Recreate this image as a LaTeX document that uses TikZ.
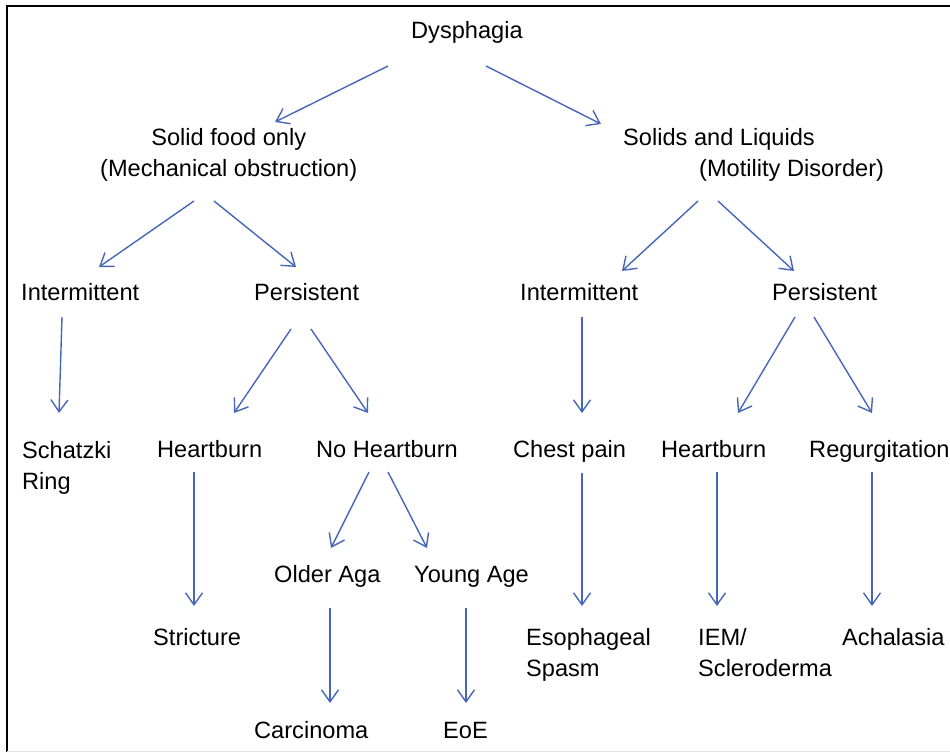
\documentclass[tikz,border=0pt]{standalone}
\usepackage{fontspec}
\setmainfont{Liberation Sans}
\usepackage{tikz}
\usetikzlibrary{arrows.meta}
\definecolor{pfeilblau}{RGB}{70,102,184}

\begin{document}
\begin{tikzpicture}[x=1pt, y=-1pt, % Pixelkoordinaten, y nach unten
    txt/.style={anchor=base west, inner sep=0pt, font=\fontsize{23.6pt}{31pt}\selectfont},
    pfeil/.style={draw=pfeilblau, line width=1.4pt, -{Straight Barb[length=12pt, width=17pt]}}]

    \useasboundingbox (0,0) rectangle (950,752);

    % Rahmen
    \draw[line width=2.5pt] (950,6) -- (7,6) -- (7,752);
    \draw[gray!20, line width=0.8pt] (7,751) -- (950,751);

    % Ebene 1 und 2 (mehrzeilig: Grundlinie der letzten Zeile)
    \node[txt] (dys) at (411,39) {Dysphagia};
    \node[txt, align=center] (solid) at (100,176) {Solid food only\\(Mechanical obstruction)};
    \node[txt, align=left] (sl) at (623,176) {Solids and Liquids\\\hspace*{76pt}(Motility Disorder)};

    % Ebene 3
    \node[txt] (inl) at (21,300) {Intermittent};
    \node[txt] (pel) at (254,300) {Persistent};
    \node[txt] (inr) at (520,300) {Intermittent};
    \node[txt] (per) at (772,300) {Persistent};

    % Ebene 4
    \node[txt, align=left] (sch) at (22,489) {Schatzki\\Ring};
    \node[txt] (hbl) at (157,457) {Heartburn};
    \node[txt] (nhb) at (316,457) {No Heartburn};
    \node[txt] (chp) at (513,457) {Chest pain};
    \node[txt] (hbr) at (661,457) {Heartburn};
    \node[txt] (reg) at (809,457) {Regurgitation};

    % Ebene 5 und 6
    \node[txt] (old) at (274,582) {Older Aga};
    \node[txt] (yng) at (414,582) {Young Age};
    \node[txt] (str) at (153,645) {Stricture};
    \node[txt, align=left] (eso) at (526,676) {Esophageal\\Spasm};
    \node[txt, align=left] (iem) at (698,676) {IEM/\\Scleroderma};
    \node[txt] (ach) at (842,645) {Achalasia};

    % Ebene 7
    \node[txt] (car) at (254,738) {Carcinoma};
    \node[txt] (eoe) at (443,738) {EoE};

    % Pfeile: von/dx/dy/nach/dx/dy (Versatz zum Grundlinienpunkt)
    \foreach \von/\vx/\vy/\nach/\nx/\ny in {
        dys/-23/27/solid/175/-54, dys/75/27/sl/-22/-52,
        solid/94/25/inl/78/-33, solid/114/25/pel/42/-33,
        sl/75/25/inr/102/-29, sl/95/25/per/22/-29,
        inl/41/17/sch/37/-76, pel/37/29/hbl/77/-44, pel/57/29/nhb/52/-44,
        inr/62/17/chp/69/-44, per/23/17/hbr/77/-44, per/42/17/reg/63/-44,
        hbl/37/15/str/41/-39, nhb/53/15/old/57/-34, nhb/72/15/yng/13/-34,
        chp/69/16/eso/56/-70, hbr/56/15/iem/19/-70, reg/63/15/ach/30/-39,
        old/56/26/car/76/-35, yng/52/26/eoe/23/-35} {
        \draw[pfeil] ([shift={(\vx,\vy)}]\von.base west) -- ([shift={(\nx,\ny)}]\nach.base west);
    }
\end{tikzpicture}
\end{document}
